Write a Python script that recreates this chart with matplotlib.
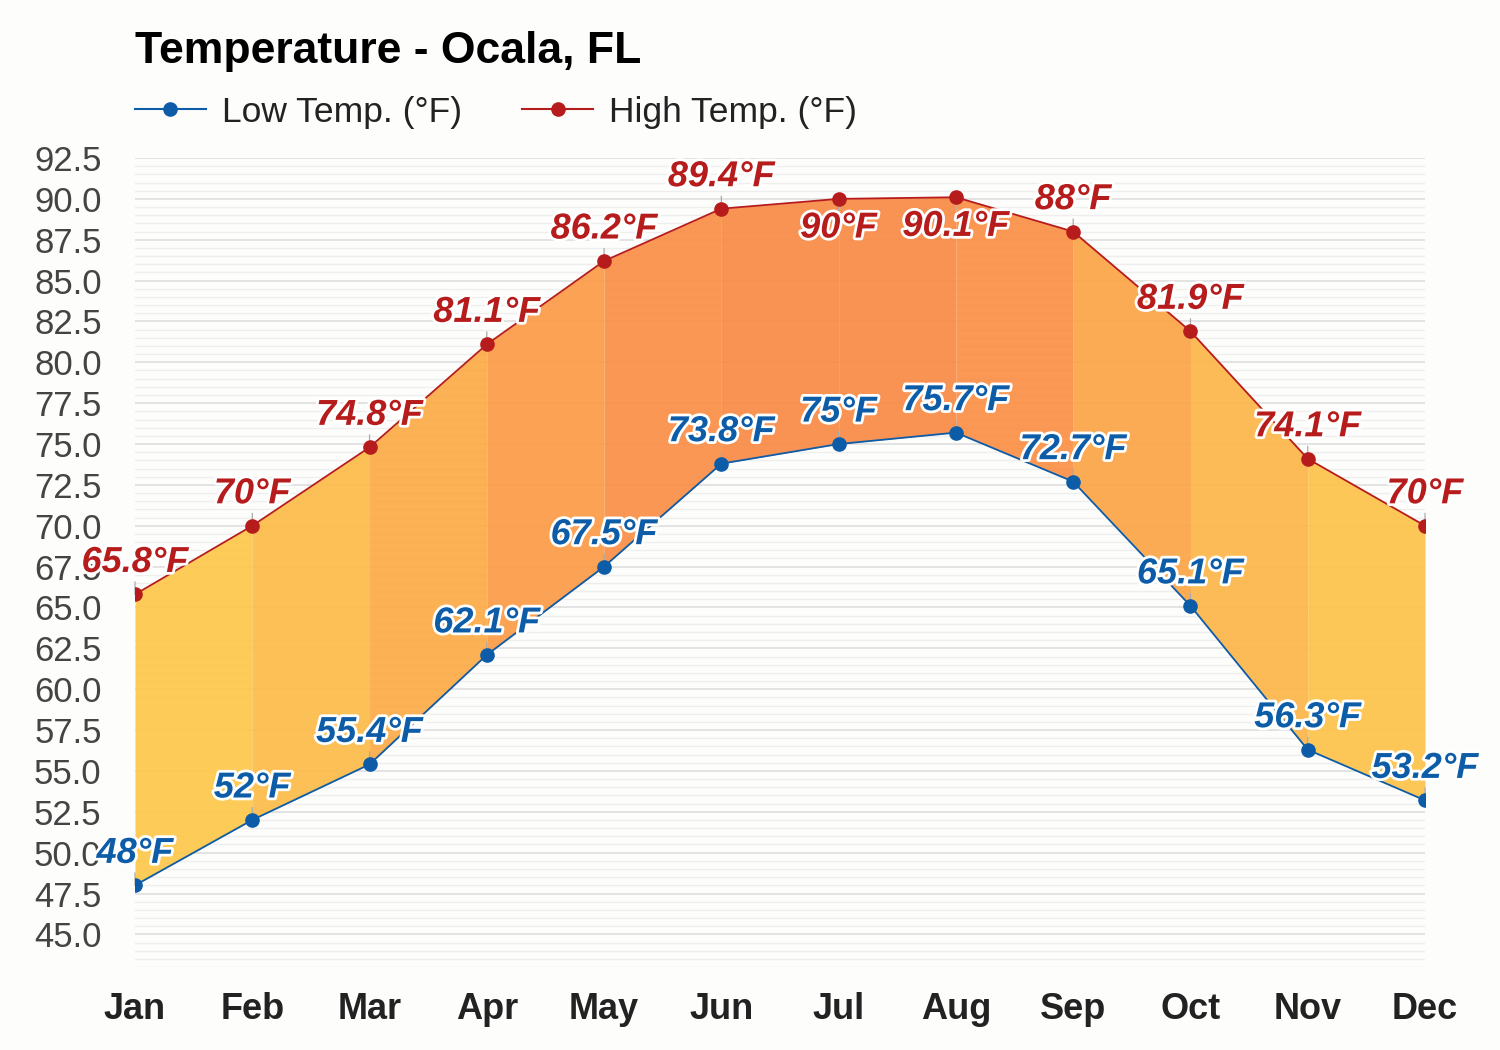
import numpy as np
import matplotlib
matplotlib.use('Agg')
import matplotlib.pyplot as plt
import matplotlib.patheffects as pe
from matplotlib.lines import Line2D
from matplotlib.ticker import MultipleLocator

plt.rcParams['font.family'] = ['Liberation Sans', 'DejaVu Sans']

months = ['Jan', 'Feb', 'Mar', 'Apr', 'May', 'Jun', 'Jul', 'Aug', 'Sep', 'Oct', 'Nov', 'Dec']
low_temp = [48.0, 52.0, 55.4, 62.1, 67.5, 73.8, 75.0, 75.7, 72.7, 65.1, 56.3, 53.2]
high_temp = [65.8, 70.0, 74.8, 81.1, 86.2, 89.4, 90.0, 90.1, 88.0, 81.9, 74.1, 70.0]
low_labels = ['48°F', '52°F', '55.4°F', '62.1°F', '67.5°F', '73.8°F', '75°F', '75.7°F',
              '72.7°F', '65.1°F', '56.3°F', '53.2°F']
high_labels = ['65.8°F', '70°F', '74.8°F', '81.1°F', '86.2°F', '89.4°F', '90°F', '90.1°F',
               '88°F', '81.9°F', '74.1°F', '70°F']

# colour of each month-to-month band
band_colors = ['#fdc84b', '#fcbc4a', '#fbab47', '#fb9b48', '#fa8f47', '#f98b47',
               '#f98b47', '#fa9047', '#fba547', '#fcb64a', '#fdc34b']

low_color = '#0d5ca8'
high_color = '#b71c1c'
bg = '#fdfdfc'

fig = plt.figure(figsize=(15, 10.5), dpi=100, facecolor=bg)
ax = fig.add_axes([0.09, 0.079, 0.86, 0.7705], facecolor=bg)

x = np.arange(len(months))

# grid
ax.yaxis.set_major_locator(MultipleLocator(2.5))
ax.yaxis.set_minor_locator(MultipleLocator(0.5))
ax.grid(which='major', axis='y', color='#dcdcdc', lw=1.1, zorder=0)
ax.grid(which='minor', axis='y', color='#eeeeee', lw=1.0, zorder=0)
ax.set_axisbelow(True)

# filled bands between low and high
for i in range(len(months) - 1):
    ax.fill_between(x[i:i + 2], low_temp[i:i + 2], high_temp[i:i + 2],
                    color=band_colors[i], alpha=0.93, lw=0, zorder=1)

ax.plot(x, low_temp, color=low_color, lw=1.3, marker='o', ms=9.5, zorder=3)
ax.plot(x, high_temp, color=high_color, lw=1.3, marker='o', ms=9.5, zorder=3)

stroke = [pe.withStroke(linewidth=4, foreground='white')]

def label(xv, yv, txt, col, below=False):
    off = -21 if below else 23
    stub = -9 if below else 9
    ax.annotate('', xy=(xv, yv), xytext=(0, stub), textcoords='offset points',
                arrowprops=dict(arrowstyle='-', color='#aaaaaa', lw=0.9,
                                shrinkA=0, shrinkB=0), zorder=2)
    ax.annotate(txt, xy=(xv, yv), xytext=(0, off), textcoords='offset points',
                ha='center', va='center', fontsize=26, fontweight='bold',
                fontstyle='italic', color=col, path_effects=stroke, zorder=5,
                annotation_clip=False)

for i in range(len(months)):
    label(x[i], low_temp[i], low_labels[i], low_color)
    label(x[i], high_temp[i], high_labels[i], high_color, below=high_temp[i] >= 90)

ax.set_xlim(0, 11)
ax.set_ylim(43, 92.5)
ax.set_xticks(x)
ax.set_xticklabels(months, fontsize=26, fontweight='bold', color='#222222')
ax.set_yticks(np.arange(45, 92.6, 2.5))
ax.set_yticklabels(['%.1f' % v for v in np.arange(45, 92.6, 2.5)], fontsize=25, color='#444444')
ax.tick_params(axis='both', which='both', length=0)
ax.tick_params(axis='x', pad=18)
ax.tick_params(axis='y', pad=24)
for s in ax.spines.values():
    s.set_visible(False)

fig.text(0.09, 0.951, 'Temperature - Ocala, FL', fontsize=32, fontweight='bold',
         color='#000000', va='center', ha='left')

handles = [Line2D([], [], color=low_color, lw=1.5, marker='o', ms=9.5),
           Line2D([], [], color=high_color, lw=1.5, marker='o', ms=9.5)]
fig.legend(handles, ['Low Temp. (°F)', 'High Temp. (°F)'], loc='center left',
           bbox_to_anchor=(0.09, 0.893), ncol=2, frameon=False, fontsize=25.5,
           borderpad=0, borderaxespad=0, handlelength=2.0, handletextpad=0.45,
           columnspacing=1.7, labelcolor='#222222')

fig.savefig('out.png', dpi=100, facecolor=bg)
